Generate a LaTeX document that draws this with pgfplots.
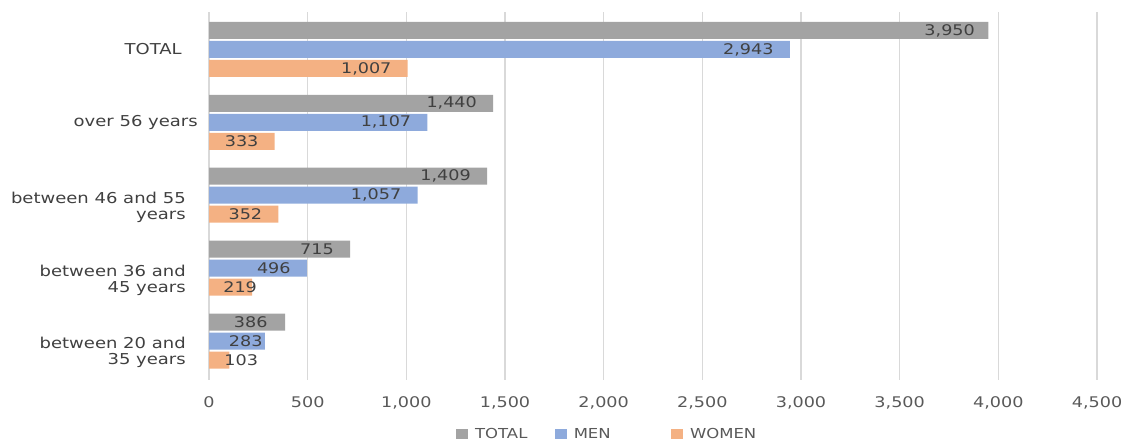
\documentclass[border=0pt]{standalone}
\usepackage{pgfplots}
\pgfplotsset{compat=1.18}
\usepackage{pgfplotstable}
\usepackage{fontspec}
\setmainfont{DejaVu Sans}
\newfontfamily\lab[FakeStretch=1.2]{DejaVu Sans}
\definecolor{cgray}{HTML}{A3A3A3}
\definecolor{cblue}{HTML}{8EAADC}
\definecolor{corange}{HTML}{F4B183}
\definecolor{gridc}{HTML}{D9D9D9}
\definecolor{txt}{HTML}{404040}
\definecolor{tick}{HTML}{595959}

\pgfplotstableread{
y x dx
4 3950 -10
3 1440 -12
2 1409 -12
1 715 -12
0 386 -13
}\tabTotal
\pgfplotstableread{
y x dx
4 2943 -12
3 1107 -12
2 1057 -12
1 496 -12
0 283 -1.5
}\tabMen
\pgfplotstableread{
y x dx
4 1007 -12
3 333 -12
2 352 -12
1 219 3.75
0 103 21.75
}\tabWomen

\newcommand{\twol}[2]{\raisebox{0pt}[\dimexpr\height+19pt\relax][\depth]{\begin{tabular}{@{}r@{}}#1\hspace*{9pt}\\#2\hspace*{9pt}\end{tabular}}}

\begin{document}
\begin{tikzpicture}
\useasboundingbox (0,0) rectangle (844.5pt,331.5pt);
\begin{axis}[
  at={(156.75pt,46.5pt)},
  scale only axis,
  width=666pt, height=276pt,
  xbar, bar width=12.75pt,
  xmin=0, xmax=4500,
  ymin=-0.535, ymax=4.514,
  xtick={0,500,...,4500},
  ytick={0,1,2,3,4},
  yticklabels={
    {\twol{between 20 and}{35 years}},
    {\twol{between 36 and}{45 years}},
    {\twol{between 46 and 55}{years}},
    {over 56 years},
    {TOTAL\hspace*{12pt}}},
  scaled x ticks=false,
  /pgf/number format/.cd, 1000 sep={,}, /pgfplots/.cd,
  xmajorgrids,
  major grid style={color=gridc, line width=1.2pt},
  axis line style={draw=none},
  major tick length=0pt,
  tick style={draw=none},
  clip=false,
  xticklabel style={font=\fontsize{11pt}{13pt}\lab, text=tick, inner sep=0pt, anchor=north, yshift=-12.5pt,
    /pgf/number format/assume math mode=true},
  yticklabel style={font=\fontsize{11.25pt}{12pt}\lab, text=txt, inner sep=0pt, anchor=east, xshift=-8.25pt},
  visualization depends on={\thisrow{dx} \as \mydx},
  nodes near coords,
  every node near coord/.append style={anchor=east, inner sep=0pt, xshift=\mydx pt,
     font=\fontsize{11pt}{13pt}\lab, text=txt, /pgf/number format/assume math mode=true},
  legend columns=3,
  legend style={at={(0.449,-0.147)}, anchor=center, draw=none, fill=none,
    font=\fontsize{10.3pt}{12pt}\lab, text=tick,
    /tikz/every odd column/.append style={column sep=3pt},
    /tikz/every even column/.append style={column sep=18.75pt}},
  legend image code/.code={\fill[#1] (0pt,-3.75pt) rectangle (9pt,3.75pt);},
]
\addplot[draw=none, fill=cgray, bar shift=14.25pt] table[x=x,y=y]{\tabTotal};
\addplot[draw=none, fill=cblue, bar shift=0pt] table[x=x,y=y]{\tabMen};
\addplot[draw=none, fill=corange, bar shift=-14.25pt] table[x=x,y=y]{\tabWomen};
\legend{TOTAL, MEN\hspace*{24.75pt}, WOMEN}
\end{axis}
\end{tikzpicture}
\end{document}
